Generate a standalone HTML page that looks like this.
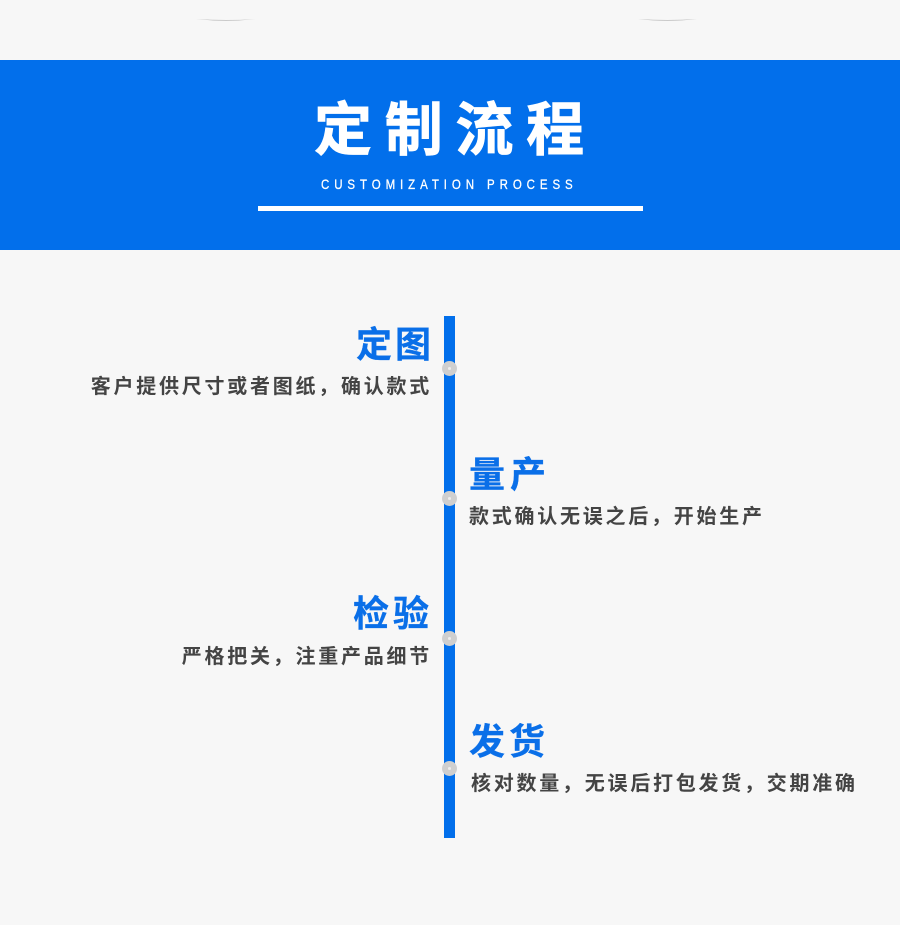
<!DOCTYPE html>
<html lang="zh"><head><meta charset="utf-8"><title>定制流程</title>
<style>
html,body{margin:0;padding:0}
body{width:900px;height:925px;background:#f7f7f7;position:relative;overflow:hidden;font-family:"Liberation Sans","Noto Sans CJK SC",sans-serif;font-weight:700}
div{position:absolute;white-space:nowrap}
.h{font-size:36px;line-height:44px;color:#0a6fe8;letter-spacing:4px;-webkit-text-stroke:.3px #0a6fe8}
.t{font-size:20px;line-height:28px;color:#444;letter-spacing:2.75px}
.r{text-align:right;left:0}
.d{left:442px;width:15px;height:15px;border-radius:50%;background:#cfcfcf}
.d:after{content:"";position:absolute;left:6px;top:6px;width:3px;height:3px;border-radius:50%;background:#eee}
</style></head><body>
<svg style="position:absolute;left:0;top:0" width="900" height="25">
<path d="M196 19Q226 22.5 256 19Q226 21 196 19Z" fill="#bbb"/>
<path d="M638 19Q667 22.5 697 19Q667 21 638 19Z" fill="#bbb"/>
</svg>
<div style="left:0;top:60px;width:900px;height:190px;background:#026feb"></div>
<div style="left:314px;top:93px;font-size:58px;line-height:76px;letter-spacing:12.7px;color:#fff;-webkit-text-stroke:.8px #fff">定制流程</div>
<div style="left:321px;top:175px;font-size:14px;line-height:18px;letter-spacing:6px;color:#fff;font-weight:400;-webkit-text-stroke:.3px #fff;transform:scaleX(.82);transform-origin:0 0">CUSTOMIZATION PROCESS</div>
<div style="left:258px;top:206px;width:385px;height:5px;background:#fff"></div>
<div style="left:444px;top:316px;width:11px;height:522px;background:#026feb"></div>
<div class="d" style="top:361px"></div>
<div class="d" style="top:491px"></div>
<div class="d" style="top:631px"></div>
<div class="d" style="top:761px"></div>
<div class="h r" style="width:434px;top:323px;letter-spacing:3px">定图</div>
<div class="t r" style="width:432px;top:373px">客户提供尺寸或者图纸，确认款式</div>
<div class="h" style="left:469px;top:453px;letter-spacing:5px">量产</div>
<div class="t" style="left:469px;top:503px">款式确认无误之后，开始生产</div>
<div class="h r" style="width:433px;top:592px">检验</div>
<div class="t r" style="width:432px;top:643px">严格把关，注重产品细节</div>
<div class="h" style="left:469px;top:720px">发货</div>
<div class="t" style="left:471px;top:770px">核对数量，无误后打包发货，交期准确</div>
</body></html>
